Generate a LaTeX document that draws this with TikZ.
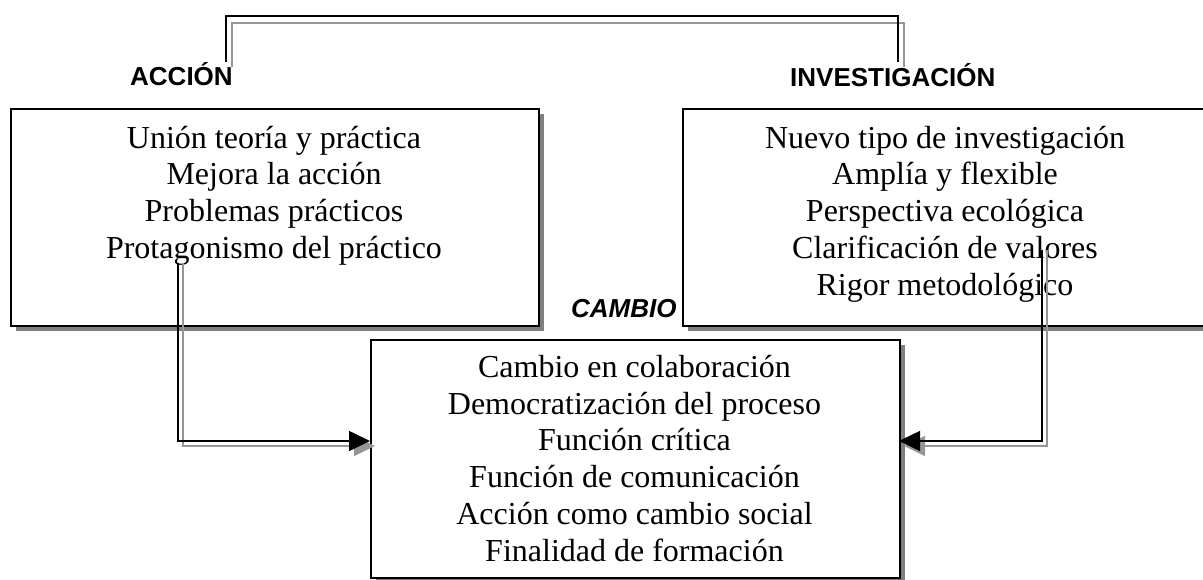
\documentclass[tikz,border=0pt]{standalone}
\usepackage{fontspec}
\setmainfont{Liberation Serif}
\newfontfamily\labelfont{Liberation Sans}
\usetikzlibrary{arrows.meta,shadows}
\definecolor{boxshadow}{RGB}{128,128,128}
\definecolor{lineshadow}{RGB}{150,150,150}
\begin{document}
\begin{tikzpicture}[x=1pt,y=-1pt,
  box/.style={draw=black, line width=1.8pt, fill=white, inner sep=0pt, anchor=north west,
    general shadow={fill=boxshadow, shadow xshift=5pt, shadow yshift=-5pt}},
  txt/.style={inner sep=0pt, align=center, anchor=north, font=\fontsize{32pt}{36.8pt}\selectfont},
  lbl/.style={inner sep=0pt, anchor=base west, font=\labelfont\bfseries\fontsize{26pt}{30pt}\selectfont},
  blk/.style={draw=black, line width=1.6pt},
  gry/.style={draw=lineshadow, line width=1.3pt},
  tipb/.style={-{Triangle[length=21pt,width=20pt]}},
  tipg/.style={-{Triangle[length=21pt,width=20pt,fill=lineshadow]}}
]
\useasboundingbox (0,0) rectangle (1203,580);
\clip (0,0) rectangle (1203,580);

% labels
\node[lbl] (accion) at (130,86) {ACCIÓN};
\node[lbl] (invest) at (790,87) {INVESTIGACIÓN};
\node[lbl, font=\labelfont\bfseries\itshape\fontsize{26pt}{30pt}\selectfont] (cambio) at (571,317) {CAMBIO};

% boxes
\node[box, minimum width=528pt, minimum height=217pt] (accionbox) at (10,108) {};
\node[box, minimum width=526pt, minimum height=217pt] (investbox) at (682,108) {};
\node[box, minimum width=529pt, minimum height=238pt] (cambiobox) at (370,339) {};

% texts
\node[txt] (acciontxt) at (274,118) {\rule{0pt}{30pt}Unión teoría y práctica\\Mejora la acción\\Problemas prácticos\\Protagonismo del práctico};
\node[txt] (investtxt) at (945,118) {\rule{0pt}{30pt}Nuevo tipo de investigación\\Amplía y flexible\\Perspectiva ecológica\\Clarificación de valores\\Rigor metodológico};
\node[txt] (cambiotxt) at (634.5,347) {\rule{0pt}{30pt}Cambio en colaboración\\Democratización del proceso\\Función crítica\\Función de comunicación\\Acción como cambio social\\Finalidad de formación};

% coordinates for connectors
\coordinate (a1) at (226,62);  \coordinate (a2) at (226,16);
\coordinate (b2) at (898,16);  \coordinate (b1) at (898,62);
\coordinate (ga1) at (232,67); \coordinate (ga2) at (232,23);
\coordinate (gb2) at (904,23); \coordinate (gb1) at (904,67);

\coordinate (l1) at (178,263); \coordinate (l2) at (178,441); \coordinate (l3) at (370,441);
\coordinate (gl1) at (183,263); \coordinate (gl2) at (183,446); \coordinate (gl3) at (375,446);

\coordinate (r1) at (1042,250); \coordinate (r2) at (1042,441); \coordinate (r3) at (899,441);
\coordinate (gr1) at (1047,250); \coordinate (gr2) at (1047,446); \coordinate (gr3) at (904,446);

% top connector (shadow then black)
\draw[gry] (ga1) -- (ga2) -- (gb2) -- (gb1);
\draw[blk] (a1) -- (a2) -- (b2) -- (b1);

% left connector
\draw[gry, tipg] (gl1) -- (gl2) -- (gl3);
\draw[blk, tipb] (l1) -- (l2) -- (l3);

% right connector
\draw[gry, tipg] (gr1) -- (gr2) -- (gr3);
\draw[blk, tipb] (r1) -- (r2) -- (r3);
\end{tikzpicture}
\end{document}
